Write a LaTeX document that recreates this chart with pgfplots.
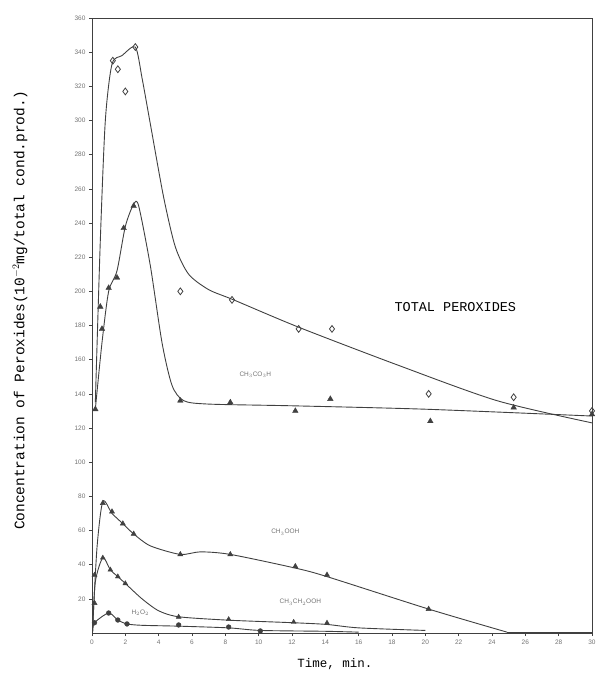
\documentclass[border=0pt]{standalone}
\usepackage{pgfplots}
\pgfplotsset{compat=1.18}
\usepackage{fontspec}
\setmainfont{Liberation Sans}
\setmonofont{Liberation Mono}
\definecolor{ink}{gray}{0.25}
\definecolor{lbl}{gray}{0.45}
\begin{document}
\begin{tikzpicture}
\path[use as bounding box] (-92pt,-56pt) rectangle (507pt,633pt);
\begin{axis}[
  at={(0,0)}, anchor=south west,
  scale only axis, width=500pt, height=615pt,
  xmin=0, xmax=30, ymin=0, ymax=360,
  xtick={0,2,...,30}, ytick={20,40,...,360},
  tick pos=left, tick align=outside,
  major tick length=3pt,
  axis line style={ink, line width=0.9pt},
  tick style={ink, line width=0.6pt},
  ticklabel style={font=\fontsize{6.5}{7}\selectfont, text=lbl},
  /pgf/number format/assume math mode=true,
  xlabel={\ttfamily Time, min.},
  xlabel style={at={(axis description cs:0.486,-0.036)}, anchor=north, font=\fontsize{12.5}{14}\selectfont},
  ylabel={\ttfamily Concentration of Peroxides(10$^{-2}$mg/total cond.prod.)},
  ylabel style={at={(axis description cs:-0.144,0.525)}, anchor=center, font=\fontsize{14.5}{16}\selectfont},
  clip=false,
]
\draw[ink, line width=0.9pt] (rel axis cs:0,0) rectangle (rel axis cs:1,1);
% --- curves (hand-drawn fits)
\addplot[ink, line width=0.9pt, smooth, tension=0.45] coordinates {
 (0.2,135) (0.5,230) (0.8,300) (1.2,333) (1.8,338) (2.6,343) (3.0,325) (3.5,298)
 (4.3,255) (5.0,226) (5.8,210) (7,201) (8.5,195) (12.4,179) (18.3,157) (24.3,136) (30,123)};
\addplot[ink, line width=0.9pt, smooth, tension=0.45] coordinates {
 (0.2,131) (0.6,170) (1.0,200) (1.5,212) (2.0,238) (2.5,251) (2.8,250) (3.5,215)
 (4.2,170) (4.8,145) (5.5,136) (7,134) (12,133) (20,131) (30,127)};
\addplot[ink, line width=0.9pt, smooth, tension=0.45] coordinates {
 (0.05,5) (0.3,50) (0.65,77) (1.2,70) (1.85,64) (2.5,58) (3.5,51) (5.3,46) (6.5,47.5)
 (8.3,46) (12.2,38) (14.1,33) (20.2,14) (24.9,0.5)};
\addplot[ink, line width=0.9pt] coordinates {(24.9,0.5) (30,0.5)};
\addplot[ink, line width=0.9pt, smooth, tension=0.45] coordinates {
 (0.05,3) (0.2,30) (0.65,44) (1.1,37) (1.55,33) (2.0,29) (3,20) (4,13) (5.2,9.5)
 (8.2,7.5) (12.1,6) (14.1,5) (16,3) (20,1.5)};
\addplot[ink, line width=0.9pt, smooth, tension=0.45] coordinates {
 (0.05,1) (0.15,6) (1.0,11.7) (1.55,7.6) (2.1,5.3) (3,4.5) (5.2,4) (8.2,3) (10.1,1.5)
 (14,1) (16,0.5)};
% --- measured points
\addplot[only marks, mark=diamond, mark size=3.4pt, mark options={ink, line width=0.8pt}] coordinates {
 (1.25,335) (1.55,330) (2.0,317) (2.6,343) (5.3,200) (8.4,195) (12.4,178) (14.4,178)
 (20.2,140) (25.3,138) (30,130)};
\addplot[only marks, mark=triangle*, mark size=3.2pt, mark options={ink}] coordinates {
 (0.2,131) (0.5,191) (0.6,178) (1.0,202) (1.5,208) (1.9,237) (2.5,250) (5.3,136)
 (8.3,135) (12.2,130) (14.3,137) (20.3,124) (25.3,132) (30,128)};
\addplot[only marks, mark=triangle*, mark size=3pt, mark options={ink}] coordinates {
 (0.15,17.5) (0.65,76) (1.2,71) (1.85,64) (2.5,58) (5.3,46) (8.3,46) (12.2,39) (14.1,34) (20.2,14)};
\addplot[only marks, mark=triangle*, mark size=2.8pt, mark options={ink}] coordinates {
 (0.15,34) (0.65,44) (1.1,37) (1.55,33) (2.0,29) (5.2,9.4) (8.2,8) (12.1,6.4) (14.1,5.9)};
\addplot[only marks, mark=*, mark size=2.4pt, mark options={ink}] coordinates {
 (0.15,6) (1.0,11.7) (1.55,7.6) (2.1,5.3) (5.2,4.7) (8.2,3.5) (10.1,1.2)};
% --- labels
\node[font=\ttfamily\fontsize{13.5}{15}\selectfont, text=black] at (axis cs:21.8,191) {TOTAL PEROXIDES};
\node[font=\fontsize{6.5}{7}\selectfont, text=lbl] at (axis cs:9.8,151) {CH$_3$CO$_3$H};
\node[font=\fontsize{6.5}{7}\selectfont, text=lbl] at (axis cs:11.6,59) {CH$_3$OOH};
\node[font=\fontsize{6.5}{7}\selectfont, text=lbl] at (axis cs:12.5,18) {CH$_3$CH$_2$OOH};
\node[font=\fontsize{6.5}{7}\selectfont, text=lbl] at (axis cs:2.9,11.7) {H$_2$O$_2$};
\end{axis}
\end{tikzpicture}
\end{document}
